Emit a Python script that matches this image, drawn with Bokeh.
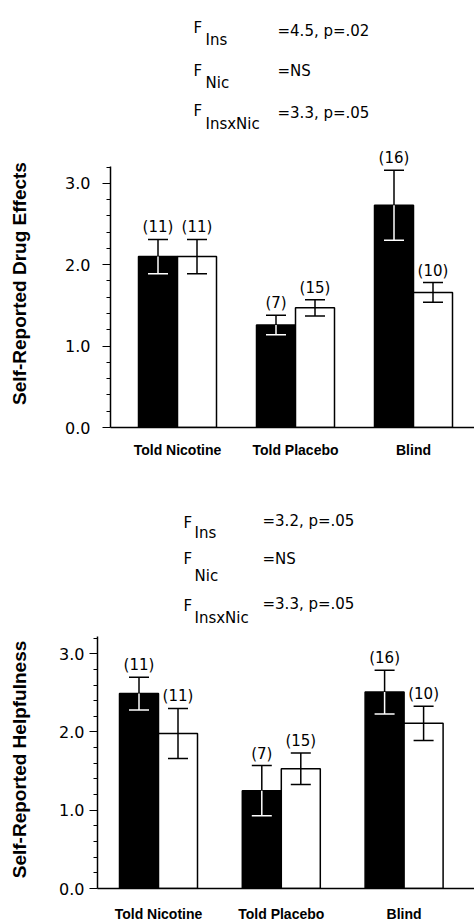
import numpy as np
from bokeh.plotting import figure
from bokeh.models import ColumnDataSource, Whisker, TeeHead, FixedTicker, Range1d, PrintfTickFormatter
from bokeh.layouts import column
from bokeh.core.properties import value
from bokeh.embed import file_html
from bokeh.resources import INLINE

# ---------------- data ----------------
categories = ["Told Nicotine", "Told Placebo", "Blind"]
n_nicotine = [11, 7, 16]
n_placebo = [11, 15, 10]

drug_nicotine = [2.10, 1.26, 2.73]
drug_nicotine_sem = [0.21, 0.12, 0.43]
drug_placebo = [2.10, 1.47, 1.66]
drug_placebo_sem = [0.21, 0.10, 0.12]

help_nicotine = [2.49, 1.25, 2.51]
help_nicotine_sem = [0.21, 0.32, 0.28]
help_placebo = [1.98, 1.53, 2.11]
help_placebo_sem = [0.32, 0.20, 0.22]

drug_stats = [("Ins", "=4.5, p=.02"), ("Nic", "=NS"), ("InsxNic", "=3.3, p=.05")]
help_stats = [("Ins", "=3.2, p=.05"), ("Nic", "=NS"), ("InsxNic", "=3.3, p=.05")]

y_ticks = [0, 1, 2, 3]

W = 474
FONT = "DejaVu Sans"
BOLD_FONT = "Liberation Sans"


def make_stats(stats, g):
    H = g["h"]
    p = figure(width=W, height=H, x_range=Range1d(0, W), y_range=Range1d(H, 0),
               output_backend="svg", toolbar_location=None,
               x_axis_location=None, y_axis_location=None, frame_align=False,
               min_border_left=0, min_border_right=0, min_border_top=0, min_border_bottom=0)
    p.outline_line_color = None
    p.xgrid.grid_line_color = None
    p.ygrid.grid_line_color = None
    for (sub, eq), row in zip(stats, g["rows"]):
        fb, sb, eb = row
        p.text(x=[g["f_x"]], y=[fb], text=["F"], text_baseline="alphabetic",
               text_font=value(FONT), text_font_size=g["fs"], text_color="black")
        p.text(x=[g["sub_x"]], y=[sb], text=[sub], text_baseline="alphabetic",
               text_font=value(FONT), text_font_size=g["fs"], text_color="black")
        p.text(x=[g["eq_x"]], y=[eb], text=[eq], text_baseline="alphabetic",
               text_font=value(FONT), text_font_size=g["fs"], text_color="black")
    return p


def make_chart(ylabel, nic, nic_sem, plc, plc_sem, g):
    H = g["h"]
    left = g["left"]
    y0 = g["y0"]
    ppu = g["ppu"]
    unit = g["unit"]
    c1 = g["c1"]
    xs = 1 - (c1 - left) / unit
    xe = xs + (W - left) / unit
    ymax = y0 / ppu

    p = figure(width=W, height=H, x_range=Range1d(xs, xe), y_range=Range1d(0, ymax),
               output_backend="svg", toolbar_location=None, frame_align=False,
               min_border_left=left, min_border_right=0, min_border_top=0,
               min_border_bottom=int(H - y0))
    p.outline_line_color = None
    p.xgrid.grid_line_color = None
    p.ygrid.grid_line_color = None

    # y axis
    ya = p.yaxis[0]
    ya.bounds = (0, g["axis_top"])
    minor = [round(v, 1) for v in np.arange(0.2, g["axis_top"] + 0.01, 0.2)]
    ya.ticker = FixedTicker(ticks=y_ticks, minor_ticks=minor)
    ya.formatter = PrintfTickFormatter(format="%.1f")
    ya.axis_line_width = 1.5
    ya.axis_line_color = "black"
    ya.major_tick_out = 8
    ya.major_tick_in = 0
    ya.minor_tick_out = 4
    ya.minor_tick_in = 0
    ya.major_tick_line_width = 1.2
    ya.major_label_text_font = FONT
    ya.major_label_text_font_size = "16px"
    ya.major_label_text_color = "black"
    ya.major_label_standoff = g["lab_standoff"]
    ya.axis_label = ylabel
    ya.axis_label_text_font = BOLD_FONT
    ya.axis_label_text_font_style = "bold"
    ya.axis_label_text_font_size = "19px"
    ya.axis_label_text_color = "black"
    ya.axis_label_standoff = g["title_standoff"]

    # x axis
    xa = p.xaxis[0]
    cat_x = [1, 2, 3]
    xa.ticker = FixedTicker(ticks=cat_x)
    xa.major_label_overrides = {i: c for i, c in zip(cat_x, categories)}
    xa.major_tick_line_color = None
    xa.minor_tick_line_color = None
    xa.axis_line_width = 1.5
    xa.axis_line_color = "black"
    xa.major_label_text_font = BOLD_FONT
    xa.major_label_text_font_style = "bold"
    xa.major_label_text_font_size = "14px"
    xa.major_label_text_color = "black"
    xa.major_label_standoff = g["x_standoff"]

    w = g["bar_w"] / unit
    xb = np.array(cat_x) - w / 2
    xw = np.array(cat_x) + w / 2
    nic = np.array(nic)
    nic_sem = np.array(nic_sem)
    plc = np.array(plc)
    plc_sem = np.array(plc_sem)

    p.vbar(x=xb, top=nic, width=w, bottom=0, fill_color="black", line_color="black", line_width=1.5)
    p.vbar(x=xw, top=plc, width=w, bottom=0, fill_color="white", line_color="black", line_width=1.5)

    s_up = ColumnDataSource(dict(x=xb, lower=nic, upper=nic + nic_sem))
    s_dn = ColumnDataSource(dict(x=xb, lower=nic - nic_sem, upper=nic))
    s_pl = ColumnDataSource(dict(x=xw, lower=plc - plc_sem, upper=plc + plc_sem))
    p.add_layout(Whisker(source=s_up, base="x", lower="lower", upper="upper", dimension="height",
                         line_color="black", line_width=1.5, level="annotation",
                         upper_head=TeeHead(size=20, line_color="black", line_width=1.5),
                         lower_head=None))
    p.add_layout(Whisker(source=s_dn, base="x", lower="lower", upper="upper", dimension="height",
                         line_color="white", line_width=1.5, level="annotation",
                         lower_head=TeeHead(size=20, line_color="white", line_width=1.5),
                         upper_head=None))
    p.add_layout(Whisker(source=s_pl, base="x", lower="lower", upper="upper", dimension="height",
                         line_color="black", line_width=1.5, level="annotation",
                         upper_head=TeeHead(size=20, line_color="black", line_width=1.5),
                         lower_head=TeeHead(size=20, line_color="black", line_width=1.5)))

    # n labels
    p.text(x=np.concatenate([xb, xw]), y=np.concatenate([nic + nic_sem, plc + plc_sem]),
           text=["(%d)" % n for n in (n_nicotine + n_placebo)],
           text_align="center", text_baseline="bottom", y_offset=-3,
           text_font=value(FONT), text_font_size="15px", text_color="black")
    return p


# top panel: stats 0..139, chart 139..462 (frame 139..427)
top_stats_geom = dict(h=139, fs="15px", f_x=193, sub_x=205, eq_x=277,
                      rows=[(27, 39, 30), (70, 82, 70), (110, 123, 112)])
top_chart_geom = dict(h=323, left=110, y0=288, ppu=81.4, unit=118, c1=177, axis_top=3.21,
                      bar_w=39, lab_standoff=12, title_standoff=32, x_standoff=8)
# bottom panel: stats 462..630, chart 630..924 (frame 630..898)
bot_stats_geom = dict(h=168, fs="15px", f_x=183, sub_x=194, eq_x=262,
                      rows=[(60, 70, 58), (96, 113, 96), (143, 155, 141)])
bot_chart_geom = dict(h=294, left=97, y0=268, ppu=81.3, unit=122.8, c1=158, axis_top=3.22,
                      bar_w=39, lab_standoff=5, title_standoff=26, x_standoff=11)

s1 = make_stats(drug_stats, top_stats_geom)
p1 = make_chart("Self-Reported Drug Effects", drug_nicotine, drug_nicotine_sem,
                drug_placebo, drug_placebo_sem, top_chart_geom)
s2 = make_stats(help_stats, bot_stats_geom)
p2 = make_chart("Self-Reported Helpfulness", help_nicotine, help_nicotine_sem,
                help_placebo, help_placebo_sem, bot_chart_geom)

layout = column(s1, p1, s2, p2, spacing=0)
open("out.html", "w").write(file_html(layout, INLINE))
